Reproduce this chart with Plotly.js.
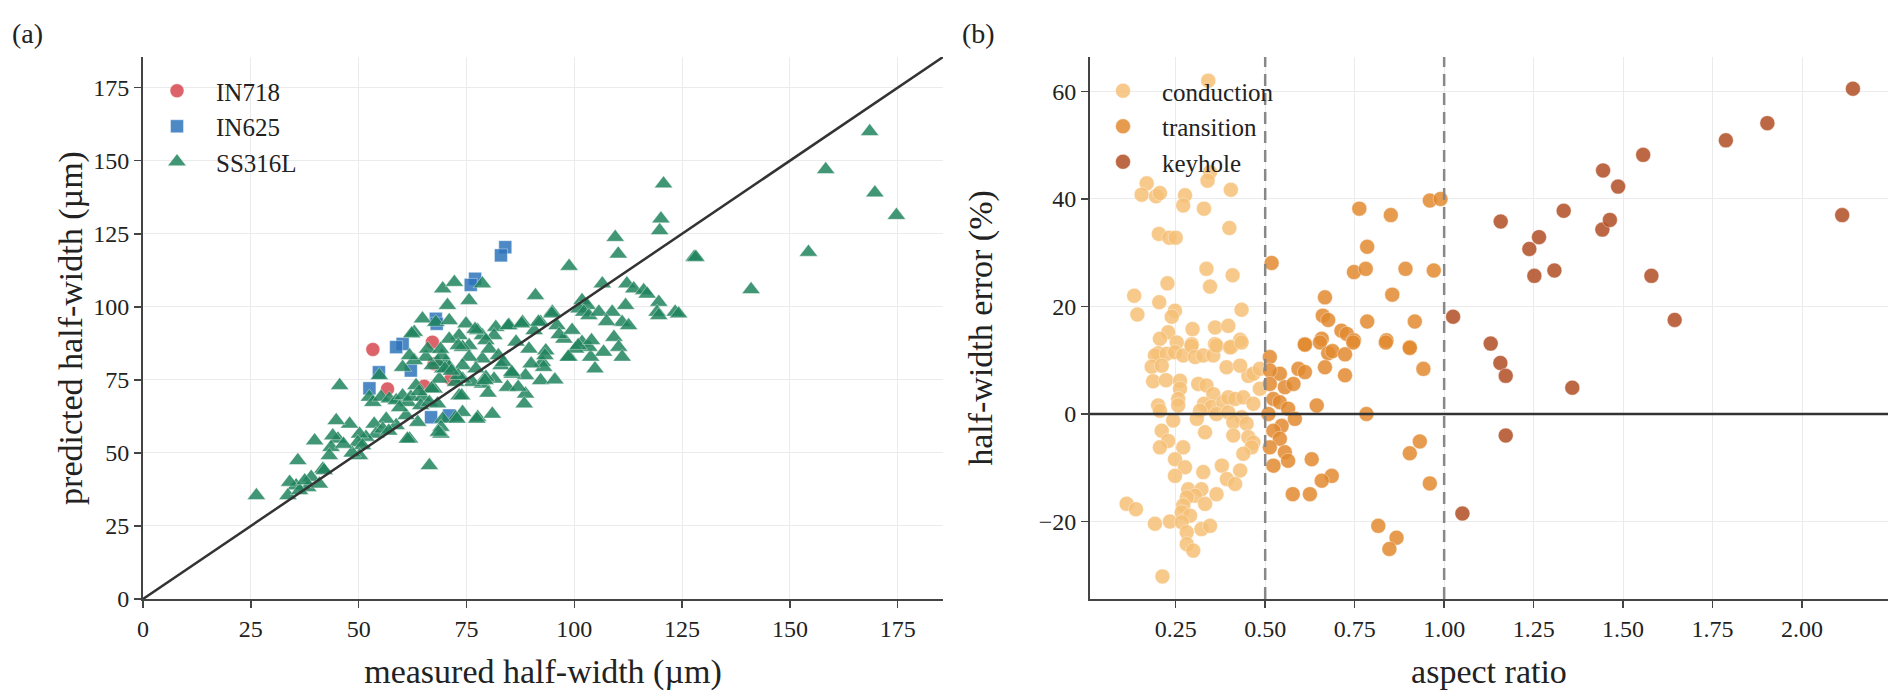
<!DOCTYPE html>
<html>
<head>
<meta charset="utf-8">
<script src="https://cdn.plot.ly/plotly-3.0.1.min.js"></script>
<style>
  html, body { margin: 0; padding: 0; background: #fff; }
  #chart { width: 1902px; height: 700px; }
</style>
</head>
<body>
<div id="chart"></div>
<script>
// (a) measured vs predicted half-width, um
const in718Meas = [53.3, 56.7, 67.1, 65.2, 71.4, 67.5];
const in718Pred = [85.4, 71.9, 87.9, 72.8, 75.3, 80.5];

const in625Meas = [84.0, 83.0, 77.0, 76.0, 67.9, 68.1, 60.2, 58.7, 54.7, 62.1, 52.5, 66.8, 71.0];
const in625Pred = [120.4, 117.6, 109.6, 107.5, 95.9, 94.2, 87.3, 86.2, 77.6, 78.2, 72.1, 62.2, 62.8];

const ss316Meas = [
  120.7, 120.1, 119.8, 109.5, 110.2, 127.8, 98.8, 91.0, 106.5, 112.2, 113.8, 116.1, 116.9, 119.6, 123.4, 119.2, 119.6,
  101.8, 103.0, 101.1, 102.2, 103.4, 105.7, 108.8, 111.9, 111.1, 112.6, 109.2, 110.3, 111.1, 106.8, 103.8, 101.8, 103.4,
  98.8, 100.3, 94.9, 96.0, 97.6, 92.2, 90.7, 88.0, 84.9, 81.8, 81.4, 89.5, 93.4, 92.6, 92.9, 92.2, 88.7, 85.6, 88.7, 88.4,
  84.5, 81.4, 83.0, 78.7, 78.7, 77.6, 79.5, 80.3, 75.6, 74.1, 73.3, 74.9, 75.6, 74.1, 77.2, 79.5, 78.7, 76.4, 74.1, 73.3,
  74.1, 77.6, 81.0, 72.5, 69.5, 69.1, 69.1, 66.4, 61.8, 63.7, 61.0, 58.7, 56.4, 53.6, 54.0, 55.6, 51.7, 50.2, 49.8, 50.9,
  50.2, 47.9, 44.8, 45.2, 44.0, 43.6, 43.2, 39.8, 41.7, 35.9, 39.0, 38.2, 35.5, 34.0, 33.6, 36.3, 40.9, 26.3, 45.6,
  52.5, 53.3, 54.8, 55.2, 57.1, 58.7, 60.2, 61.4, 62.1, 63.3, 64.8, 64.4, 66.4, 68.3, 67.5, 68.7, 69.5, 70.2, 71.0, 68.3,
  67.1, 65.6, 66.0, 62.9, 61.8, 60.2, 62.9, 64.8, 67.9, 71.0, 70.6, 69.5, 72.2, 75.6, 78.7, 71.0, 72.5,
  168.5, 158.3, 169.7, 174.7, 154.3, 141.0, 128.2, 124.2,
  77.0, 84.7, 87.8, 91.7, 94.8, 82.4, 83.6, 85.5, 93.2, 98.6, 100.9, 104.8, 79.3, 73.1, 70.0, 69.3, 73.1, 62.3, 66.9,
  73.9, 77.4, 72.8, 68.5, 61.3,
  86.5, 90.0, 96.5, 99.5, 104.0, 107.5, 95.5, 87.0, 80.0, 71.5, 69.0, 64.0, 59.5, 57.0, 48.5, 46.5, 42.0, 37.5
];
const ss316Pred = [
  142.1, 130.1, 126.1, 123.8, 118.1, 117.0, 113.9, 103.9, 107.9, 107.9, 106.2, 105.6, 104.4, 101.6, 98.2, 98.2, 97.0,
  102.2, 100.5, 99.3, 98.2, 97.0, 98.2, 98.2, 100.5, 94.7, 93.6, 89.6, 86.2, 82.8, 84.5, 82.8, 87.9, 86.2,
  82.8, 85.6, 98.2, 93.6, 89.0, 94.7, 91.9, 94.7, 93.6, 93.0, 90.2, 85.6, 85.0, 81.0, 79.3, 74.8, 76.5, 77.0, 70.2, 66.8,
  72.5, 75.3, 79.9, 82.2, 90.2, 91.9, 88.5, 85.6, 86.8, 86.2, 90.2, 94.2, 82.8, 79.9, 78.8, 75.9, 73.6, 74.2, 75.3, 69.6,
  63.9, 62.2, 63.3, 62.2, 61.6, 58.8, 56.5, 45.7, 54.8, 60.5, 62.8, 59.4, 61.6, 59.9, 56.5, 58.2, 55.4, 56.5, 53.6, 52.5,
  49.1, 59.9, 61.1, 54.8, 55.9, 51.9, 49.1, 54.2, 44.5, 47.4, 41.7, 38.2, 38.8, 40.0, 35.4, 37.1, 39.4, 35.4, 73.1,
  69.1, 67.3, 76.5, 69.1, 68.5, 67.9, 69.6, 67.3, 69.1, 73.1, 69.1, 66.2, 67.3, 66.8, 71.9, 75.3, 78.8, 81.0, 79.3, 81.0,
  79.9, 82.8, 85.6, 81.6, 83.3, 79.3, 91.3, 95.9, 94.7, 95.3, 100.5, 106.2, 108.4, 102.2, 107.9, 89.0, 74.2,
  160.0, 147.0, 139.0, 131.3, 118.7, 105.9, 117.0, 97.6,
  92.3, 93.6, 94.2, 94.8, 97.6, 83.3, 81.0, 77.6, 83.3, 82.8, 86.8, 78.8, 74.8, 76.5, 78.8, 83.3, 86.8, 90.8, 72.0,
  69.6, 61.6, 61.6, 57.1, 54.8,
  88.0, 80.5, 90.5, 92.0, 88.5, 95.0, 75.0, 72.5, 70.5, 78.0, 85.5, 71.0, 65.5, 57.5, 50.0, 53.0, 44.0, 40.5
];

// (b) aspect ratio vs half-width error, %
const condAR = [
  0.341, 0.346, 0.339, 0.169, 0.155, 0.195, 0.206, 0.276, 0.271, 0.329, 0.404, 0.400, 0.203, 0.232, 0.250, 0.336, 0.409,
  0.227, 0.346, 0.134, 0.204, 0.143, 0.248, 0.239, 0.434, 0.297, 0.360, 0.397, 0.229, 0.206, 0.253, 0.295, 0.360, 0.430,
  0.406,
  0.201, 0.192, 0.225, 0.248, 0.271, 0.294, 0.304, 0.327, 0.355, 0.364, 0.402, 0.434, 0.183, 0.211, 0.187, 0.223, 0.262,
  0.262, 0.313, 0.336, 0.355, 0.257, 0.257, 0.201, 0.206, 0.329, 0.350, 0.383, 0.397, 0.416, 0.439, 0.467, 0.453, 0.467,
  0.485, 0.392, 0.430, 0.485, 0.318, 0.364, 0.397, 0.434, 0.309, 0.243, 0.411, 0.448, 0.211, 0.332, 0.229, 0.271, 0.206,
  0.411, 0.453, 0.467, 0.462, 0.439, 0.248, 0.276, 0.327, 0.379, 0.430, 0.248, 0.393, 0.416, 0.285, 0.322, 0.304, 0.364,
  0.332, 0.281, 0.271, 0.267, 0.290, 0.113, 0.139, 0.234, 0.192, 0.267, 0.281, 0.322, 0.346, 0.281, 0.299, 0.213
];
const condErr = [
  62.0, 45.0, 43.4, 42.9, 40.8, 40.5, 41.1, 40.7, 38.8, 38.2, 41.7, 34.6, 33.5, 32.8, 32.8, 27.0, 25.8,
  24.3, 23.7, 22.0, 20.8, 18.5, 19.2, 18.1, 19.4, 15.8, 16.1, 16.4, 15.2, 14.0, 13.3, 13.0, 13.0, 13.8,
  12.5,
  11.3, 10.9, 11.2, 11.5, 10.9, 12.7, 10.6, 10.9, 10.9, 12.7, 12.4, 13.3, 8.8, 9.0, 6.1, 6.3, 6.2,
  4.7, 5.6, 5.3, 3.7, 2.8, 1.6, 1.6, 0.6, 1.9, 1.3, 2.2, 3.1, 2.8, 3.1, 1.9, 7.1, 7.5,
  8.4, 8.7, 9.0, 4.7, 0.6, 0.0, 0.3, -0.6, -0.9, -1.2, -1.5, -1.8, -3.1, -3.4, -5.0, -6.2, -6.2,
  -4.0, -4.3, -5.3, -6.2, -7.4, -8.4, -9.9, -10.8, -9.6, -10.5, -11.5, -12.1, -13.0, -14.0, -14.0, -15.2, -14.9,
  -16.7, -15.5, -17.0, -18.3, -18.9, -16.7, -17.7, -20.0, -20.4, -20.1, -22.0, -21.4, -20.8, -24.2, -25.4, -30.2
];

const transAR = [
  0.518, 0.763, 0.851, 0.960, 0.990, 0.785, 0.748, 0.781, 0.892, 0.971, 0.667, 0.855, 0.661, 0.676, 0.785, 0.918, 0.713,
  0.728, 0.748, 0.658, 0.611, 0.839, 0.904,
  0.513, 0.541, 0.513, 0.513, 0.555, 0.579, 0.593, 0.611, 0.611, 0.653, 0.676, 0.688, 0.723, 0.667, 0.723, 0.746, 0.837,
  0.904, 0.942, 0.644, 0.783, 0.523, 0.541, 0.564, 0.509, 0.583, 0.546, 0.523, 0.541, 0.513, 0.555, 0.564, 0.523, 0.630,
  0.686, 0.658, 0.625, 0.577, 0.932, 0.904, 0.960, 0.816, 0.867, 0.847
];
const transErr = [
  28.1, 38.2, 37.0, 39.7, 40.0, 31.1, 26.4, 27.0, 27.0, 26.7, 21.7, 22.2, 18.3, 17.5, 17.2, 17.2, 15.5,
  14.9, 13.7, 14.0, 13.0, 13.7, 12.4,
  10.6, 7.5, 8.1, 5.6, 5.0, 5.6, 8.4, 7.8, 12.9, 13.3, 11.3, 11.7, 11.1, 8.7, 7.2, 13.3, 13.3,
  12.3, 8.4, 1.6, 0.0, 2.8, 2.2, 1.0, 0.0, -0.9, -2.2, -3.1, -4.6, -6.2, -7.1, -8.7, -9.6, -8.4,
  -11.5, -12.4, -14.9, -14.9, -5.1, -7.3, -12.9, -20.8, -23.0, -25.1
];

const keyAR = [
  1.025, 1.130, 1.157, 1.172, 1.172, 1.051, 1.358, 1.158, 1.238, 1.265, 1.252, 1.308, 1.334, 1.442, 1.463, 1.444,
  1.486, 1.556, 1.579, 1.644, 1.787, 1.903, 2.112, 2.142
];
const keyErr = [
  18.1, 13.1, 9.5, 7.1, -4.0, -18.5, 4.9, 35.8, 30.7, 32.9, 25.7, 26.7, 37.8, 34.3, 36.1, 45.3,
  42.3, 48.2, 25.7, 17.5, 50.9, 54.1, 37.0, 60.5
];

const regimeBounds = [0.5, 1.0];
const axMax = 185.5;

const serif = 'Liberation Serif, Times New Roman, serif';
const edge = { color: 'rgba(255,255,255,0.55)', width: 0.8 };

function pts(x, y, name, symbol, color, size, xa, ya, legend) {
  return {
    type: 'scatter', mode: 'markers', x: x, y: y, name: name,
    xaxis: xa, yaxis: ya, legend: legend,
    marker: { symbol: symbol, color: color, size: size, opacity: 0.85, line: edge },
    hoverinfo: 'x+y'
  };
}

const traces = [
  pts(in718Meas, in718Pred, 'IN718', 'circle', 'rgb(214,72,80)', 14, 'x', 'y', 'legend'),
  pts(in625Meas, in625Pred, 'IN625', 'square', 'rgb(46,117,188)', 13, 'x', 'y', 'legend'),
  pts(ss316Meas, ss316Pred, 'SS316L', 'triangle-up', 'rgb(32,132,94)', 16, 'x', 'y', 'legend'),
  pts(condAR, condErr, 'conduction', 'circle', 'rgb(246,192,118)', 15, 'x2', 'y2', 'legend2'),
  pts(transAR, transErr, 'transition', 'circle', 'rgb(226,138,48)', 15, 'x2', 'y2', 'legend2'),
  pts(keyAR, keyErr, 'keyhole', 'circle', 'rgb(178,78,36)', 15, 'x2', 'y2', 'legend2')
];

const axisBase = {
  showgrid: true, gridcolor: '#ebebeb', gridwidth: 1,
  showline: true, linecolor: '#444', linewidth: 2,
  ticks: 'outside', ticklen: 7, tickwidth: 1.5, tickcolor: '#444',
  zeroline: false, mirror: false,
  tickfont: { family: serif, size: 24, color: '#222' },
  automargin: false
};
const titleFont = { family: serif, size: 34, color: '#222' };
const yDom = [1 - 599 / 700, 1 - 57 / 700];

const shapes = [
  { type: 'line', xref: 'x', yref: 'y', x0: 0, y0: 0, x1: axMax, y1: axMax,
    line: { color: '#333', width: 2.5 }, layer: 'above' },
  { type: 'line', xref: 'x2 domain', yref: 'y2', x0: 0, x1: 1, y0: 0, y1: 0,
    line: { color: '#333', width: 2.5 }, layer: 'above' }
];
regimeBounds.forEach(b => shapes.push({
  type: 'line', xref: 'x2', yref: 'y2 domain', x0: b, x1: b, y0: 0, y1: 1,
  line: { color: '#888', width: 2.5, dash: '12px,7px' }, layer: 'above'
}));

const legendBase = {
  font: { family: serif, size: 25, color: '#222' },
  bgcolor: 'rgba(0,0,0,0)', borderwidth: 0,
  xanchor: 'left', yanchor: 'top', itemwidth: 68, tracegroupgap: 0
};

const layout = {
  width: 1902, height: 700,
  margin: { l: 0, r: 0, t: 0, b: 0 },
  paper_bgcolor: '#fff', plot_bgcolor: '#fff',
  font: { family: serif, color: '#222' },
  xaxis: Object.assign({}, axisBase, {
    domain: [143 / 1902, 943 / 1902], anchor: 'y', range: [0, axMax], tick0: 0, dtick: 25,
    title: { text: 'measured half-width (µm)', font: titleFont, standoff: 18 }
  }),
  yaxis: Object.assign({}, axisBase, {
    domain: yDom, anchor: 'x', range: [0, axMax], tick0: 0, dtick: 25,
    title: { text: 'predicted half-width (µm)', font: titleFont, standoff: 0 }
  }),
  xaxis2: Object.assign({}, axisBase, {
    domain: [1090 / 1902, 1888 / 1902], anchor: 'y2', range: [0.0106, 2.24], tick0: 0, dtick: 0.25,
    tickformat: '.2f',
    title: { text: 'aspect ratio', font: titleFont, standoff: 18 }
  }),
  yaxis2: Object.assign({}, axisBase, {
    domain: yDom, anchor: 'x2', range: [-34.4, 66.4], tick0: 0, dtick: 20,
    title: { text: 'half-width error (%)', font: titleFont, standoff: 36 }
  }),
  legend: Object.assign({}, legendBase, { x: 138 / 1902, y: 1 - 68 / 700 }),
  legend2: Object.assign({}, legendBase, { x: 1084 / 1902, y: 1 - 68 / 700 }),
  shapes: shapes,
  annotations: [
    { text: '(a)', xref: 'paper', yref: 'paper', x: 10 / 1902, y: 1 - 33 / 700,
      xanchor: 'left', yanchor: 'middle', showarrow: false, font: { family: serif, size: 28, color: '#222' } },
    { text: '(b)', xref: 'paper', yref: 'paper', x: 960 / 1902, y: 1 - 33 / 700,
      xanchor: 'left', yanchor: 'middle', showarrow: false, font: { family: serif, size: 28, color: '#222' } }
  ],
  showlegend: true
};

Plotly.newPlot('chart', traces, layout, { staticPlot: true });
</script>
</body>
</html>
